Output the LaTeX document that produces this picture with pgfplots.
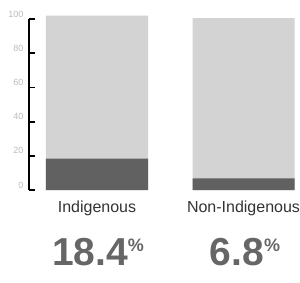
\documentclass[border=0pt]{standalone}
\usepackage{pgfplots}
\pgfplotsset{compat=1.18}
\usepackage{fontspec}
\setmainfont{Liberation Sans}
\definecolor{lightbar}{HTML}{D3D3D3}
\definecolor{darkbar}{HTML}{616161}
\definecolor{ticklab}{HTML}{BBBBBB}
\definecolor{numcol}{HTML}{666666}
\definecolor{catcol}{HTML}{333333}
\begin{document}
\begin{tikzpicture}
\useasboundingbox (-29pt,-92pt) rectangle (271pt,190pt);
\begin{axis}[
  scale only axis,
  width=271pt, height=171pt,
  xmin=29, xmax=300,
  ymin=0, ymax=100,
  clip=false,
  axis y line=left,
  axis x line=bottom,
  x axis line style={draw=none},
  y axis line style={line width=1.8pt, black, -},
  ytick={0,20,40,60,80,100},
  ytick align=inside,
  ytick pos=left,
  major tick length=6pt,
  every major y tick/.style={line width=1.8pt, black},
  x tick style={draw=none},
  yticklabel style={font=\fontsize{9}{9}\selectfont, text=ticklab, yshift=5pt, xshift=-2pt},
  /pgf/number format/assume math mode=true,
  xtick={97,243.5},
  xticklabels={Indigenous, Non-Indigenous},
  xticklabel style={font=\fontsize{16}{16}\selectfont, text=catcol, yshift=-4pt},
  bar width=102,
]
\addplot[ybar, bar shift=0pt, fill=lightbar, draw=none] coordinates {(97,102) (243.5,100.5)};
\addplot[ybar, bar shift=0pt, fill=darkbar, draw=none] coordinates {(97,18.4) (243.5,6.8)};
\node[text=numcol, font=\fontsize{39}{39}\selectfont\bfseries, anchor=base] at (axis cs:98,-44) {18.4\raisebox{14pt}{\fontsize{18}{18}\selectfont\%}};
\node[text=numcol, font=\fontsize{39}{39}\selectfont\bfseries, anchor=base] at (axis cs:245,-44) {6.8\raisebox{14pt}{\fontsize{18}{18}\selectfont\%}};
\end{axis}
\end{tikzpicture}
\end{document}
